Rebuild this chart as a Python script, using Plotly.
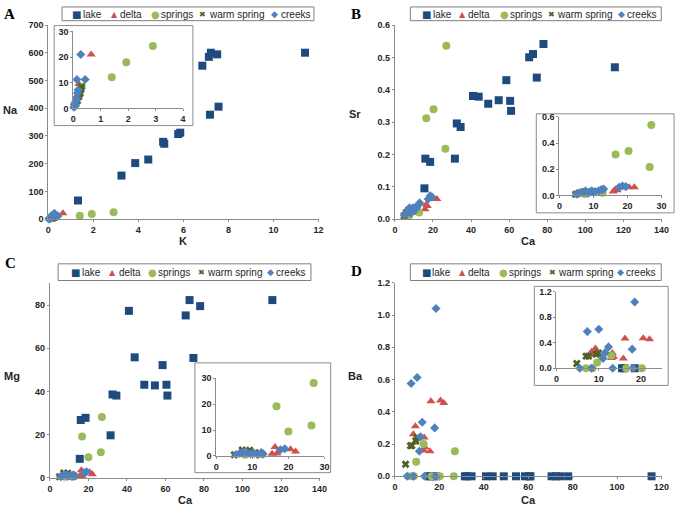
import plotly.graph_objects as go
import numpy as np

W, H = 685, 511

# ---------------- data ----------------
groups = ["lake", "delta", "springs", "warm spring", "creeks"]

# Panel A: K vs Na
lake_k = [1.32, 3.25, 3.86, 4.44, 5.1, 5.15, 5.77, 5.86, 6.84, 7.13, 7.22, 7.5, 7.18, 7.56, 11.4]
lake_na = [67, 157, 202, 215, 279, 272, 307, 312, 554, 586, 601, 595, 377, 406, 601]
delta_k = [0.65, 0.13, 0.2]
delta_na = [21.0, 5.0, 9.5]
springs_k = [0.25, 0.3, 1.4, 1.93, 2.9]
springs_na = [7.0, 8.5, 12.2, 18.0, 24.3]
warm_k = [0.15, 0.2, 0.22, 0.25, 0.28, 0.3]
warm_na = [3.0, 4.5, 5.5, 6.0, 7.5, 8.5]
creeks_k = [0.02, 0.04, 0.06, 0.08, 0.1, 0.12, 0.15, 0.17, 0.13, 0.43, 0.27]
creeks_na = [0.5, 1.5, 2.2, 1.0, 2.8, 4.0, 6.0, 7.2, 11.3, 11.3, 21.0]

# Lake samples (shared Ca for panels B, C, D)
lake_ca = [15.5, 16.0, 18.5, 31.5, 32.5, 34.5, 41.0, 44.0, 49.0, 54.5, 58.5, 60.5, 61.0, 70.5, 72.5, 74.5, 78.0, 115.5]
lake_sr = [0.095, 0.187, 0.177, 0.187, 0.296, 0.285, 0.381, 0.379, 0.357, 0.368, 0.43, 0.366, 0.335, 0.501, 0.511, 0.438, 0.542, 0.47]
lake_mg = [8.8, 26.8, 27.8, 19.7, 38.6, 38.1, 77.3, 55.8, 43.1, 42.8, 52.2, 43.1, 38.1, 75.2, 82.3, 55.5, 79.5, 82.3]
lake_ba = [0.0, 0.0, 0.0, 0.0, 0.0, 0.0, 0.0, 0.0, 0.0, 0.0, 0.0, 0.0, 0.0, 0.0, 0.0, 0.0, 0.0, 0.0]

# Panel B: Ca vs Sr
delta_ca_b = [15.8, 16.4, 17.0, 20.5, 22.0]
delta_sr = [0.03, 0.045, 0.04, 0.063, 0.062]
springs_ca_b = [7.5, 9.5, 12.7, 16.5, 20.3, 26.5, 27.0]
springs_sr = [0.012, 0.025, 0.02, 0.312, 0.34, 0.218, 0.537]
warm_ca_b = [4.8, 6.0, 7.2, 8.3, 9.5]
warm_sr = [0.01, 0.02, 0.028, 0.03, 0.025]
creeks_ca_b = [5.0, 6.0, 7.0, 7.7, 8.5, 9.5, 10.5, 11.5, 12.3, 13.0, 17.5, 18.5, 19.5]
creeks_sr = [0.012, 0.02, 0.025, 0.035, 0.018, 0.035, 0.03, 0.035, 0.045, 0.05, 0.062, 0.072, 0.068]

# Panel C: Ca vs Mg
delta_ca_c = [15.5, 16.3, 16.8, 20.6, 22.0]
delta_mg = [0.9, 3.5, 1.0, 2.6, 1.7]
springs_ca_c = [8.0, 9.5, 12.8, 16.7, 20.0, 26.4, 27.0]
springs_mg = [0.5, 1.0, 0.7, 19.2, 9.5, 11.8, 28.2]
warm_ca_c = [5.0, 7.2, 8.0, 9.3, 10.8]
warm_mg = [0.5, 2.3, 1.5, 2.2, 1.3]
creeks_ca_c = [5.5, 6.5, 7.5, 8.5, 9.5, 10.5, 11.5, 12.5, 13.0, 17.8, 19.0]
creeks_mg = [0.6, 1.0, 1.5, 1.2, 0.8, 1.0, 0.5, 1.3, 0.8, 2.4, 2.8]

# Panel D: Ca vs Ba
delta_ca_d = [16.2, 20.5, 22.0, 9.2, 8.3, 8.9, 13.2, 13.5, 13.0, 15.8]
delta_ba = [0.465, 0.47, 0.455, 0.31, 0.26, 0.21, 0.24, 0.18, 0.16, 0.155]
springs_ca_d = [7.0, 8.5, 9.6, 12.9, 16.5, 20.2, 26.5, 27.0]
springs_ba = [0.0, 0.0, 0.09, 0.2, 0.0, 0.0, 0.0, 0.155]
warm_ca_d = [4.8, 7.0, 7.6, 9.4, 9.9]
warm_ba = [0.075, 0.19, 0.19, 0.22, 0.24]
creeks_ca_d = [18.5, 7.3, 10.0, 12.3, 17.9, 11.5, 11.0, 5.5, 8.3, 13.3, 18.2]
creeks_ba = [1.04, 0.575, 0.613, 0.335, 0.3, 0.245, 0.155, 0.0, 0.0, 0.0, 0.0]

panel_data = {
    "A": [(lake_k, lake_na), (delta_k, delta_na), (springs_k, springs_na), (warm_k, warm_na), (creeks_k, creeks_na)],
    "B": [(lake_ca, lake_sr), (delta_ca_b, delta_sr), (springs_ca_b, springs_sr), (warm_ca_b, warm_sr), (creeks_ca_b, creeks_sr)],
    "C": [(lake_ca, lake_mg), (delta_ca_c, delta_mg), (springs_ca_c, springs_mg), (warm_ca_c, warm_mg), (creeks_ca_c, creeks_mg)],
    "D": [(lake_ca, lake_ba), (delta_ca_d, delta_ba), (springs_ca_d, springs_ba), (warm_ca_d, warm_ba), (creeks_ca_d, creeks_ba)],
}
# groups shown in each inset
inset_groups = {
    "A": ["lake", "delta", "springs", "warm spring", "creeks"],
    "B": ["delta", "springs", "warm spring", "creeks"],
    "C": ["delta", "springs", "warm spring", "creeks"],
    "D": ["lake", "delta", "springs", "warm spring", "creeks"],
}

# ---------------- styles ----------------
C_LAKE, C_DELTA, C_SPR, C_WARM, C_CREEK = "#1F4A7E", "#D0504D", "#9BBB59", "#4F6228", "#4F81BD"
colors = [C_LAKE, C_DELTA, C_SPR, C_WARM, C_CREEK]
symbols = ["square", "triangle-up", "circle", "x", "diamond"]
sizes = [8, 8, 8, 7, 7]
glyphs = ["■", "▲", "●", "✖", "◆"]
glyph_sizes = [10, 8, 10, 8, 9]

AX_COL = "#8C8C8C"
TXT = "#262626"
FONT = "Liberation Sans"


def px_x(p):
    return p / W


def px_y(p):
    return 1 - p / H


# axes geometry (pixels): (x0, x1, ytop, ybottom, xrange, yrange, xticks, yticks, yfmt)
axes_spec = {
    1: (46, 320.7, 20.7, 218.3, [0, 12], [0, 700], dict(dtick=2), dict(dtick=100), ""),
    2: (71.5, 183, 27, 105.5, [0, 4], [0, 30], dict(dtick=1), dict(dtick=10), ""),
    3: (398.3, 669.3, 20.7, 218.3, [0, 140], [0, 0.6], dict(dtick=20), dict(dtick=0.1), ".1f"),
    4: (565.5, 669.3, 114, 194.3, [0, 30], [0, 0.6], dict(dtick=10), dict(dtick=0.2), ".1f"),
    5: (47.7, 321.7, 284, 482.3, [0, 140], [0, 90], dict(dtick=20), dict(tickvals=[0, 20, 40, 60, 80]), ""),
    6: (216.7, 326.7, 380.7, 460, [0, 30], [0, 30], dict(dtick=10), dict(dtick=10), ""),
    7: (398.3, 669.3, 283.3, 480.7, [0, 120], [0, 1.2], dict(dtick=20), dict(dtick=0.2), ".1f"),
    8: (562.5, 670, 292.5, 370.5, [0, 25], [0, 1.2], dict(tickvals=[0, 10, 20]), dict(dtick=0.4), ".1f"),
}

fig = go.Figure()

layout = dict(
    width=W, height=H,
    margin=dict(l=0, r=0, t=0, b=0),
    paper_bgcolor="white",
    plot_bgcolor="rgba(0,0,0,0)",
    showlegend=False,
    font=dict(family=FONT, color=TXT),
)

for i, (x0, x1, yt, yb, xr, yr, xt, yt_, yfmt) in axes_spec.items():
    sfx = "" if i == 1 else str(i)
    common = dict(showline=True, linecolor=AX_COL, linewidth=1, ticks="outside", ticklen=2,
                  tickcolor=AX_COL, showgrid=False, zeroline=False,
                  tickfont=dict(family=FONT, size=9, color=TXT, weight="bold"))
    layout["xaxis" + sfx] = dict(domain=[px_x(x0), px_x(x1)], range=xr, anchor="y" + sfx, **xt, **common)
    layout["yaxis" + sfx] = dict(domain=[px_y(yb), px_y(yt)], range=yr, anchor="x" + sfx,
                                 tickformat=yfmt, **yt_, **common)

panel_axes = {"A": (1, 2), "B": (3, 4), "C": (5, 6), "D": (7, 8)}

for panel, (main_ax, inset_ax) in panel_axes.items():
    for ax in (main_ax, inset_ax):
        sfx = "" if ax == 1 else str(ax)
        xr = axes_spec[ax][4]
        yr = axes_spec[ax][5]
        for gi, (xs, ys) in enumerate(panel_data[panel]):
            if ax == inset_ax and groups[gi] not in inset_groups[panel]:
                continue
            xs = np.array(xs, dtype=float)
            ys = np.array(ys, dtype=float)
            keep = (xs <= xr[1] * 1.01) & (ys <= yr[1] * 1.01)
            fig.add_trace(go.Scatter(
                x=xs[keep], y=ys[keep], mode="markers", name=groups[gi],
                xaxis="x" + sfx, yaxis="y" + sfx, cliponaxis=False,
                marker=dict(symbol=symbols[gi], color=colors[gi], size=sizes[gi], line=dict(width=0)),
                showlegend=False,
            ))

shapes = []
annotations = []

# inset boxes
for (bx0, by0, bx1, by1) in [(52, 21, 193, 123), (542, 111, 682, 212), (195, 365, 333, 477), (540, 287, 676, 388)]:
    shapes.append(dict(type="rect", xref="paper", yref="paper", x0=px_x(bx0), x1=px_x(bx1),
                       y0=px_y(by1), y1=px_y(by0), line=dict(color=AX_COL, width=1),
                       fillcolor="white", layer="below"))

# legend boxes with items
legends = [
    ((60, 2, 316, 16), 9.3, [75, 113, 155, 203, 276]),
    ((414, 2, 669, 16), 9.3, [430.7, 466.7, 509.3, 557.3, 628.3]),
    ((56, 264, 313, 281), 272.8, [74, 111.7, 151.7, 201.7, 271.7]),
    ((414, 264, 669, 281), 272.8, [430, 466.7, 508.3, 558.3, 627.3]),
]
for (bx0, by0, bx1, by1), cy, sxs in legends:
    shapes.append(dict(type="rect", xref="paper", yref="paper", x0=px_x(bx0), x1=px_x(bx1),
                       y0=px_y(by1), y1=px_y(by0), line=dict(color="#7F7F7F", width=1),
                       fillcolor="white", layer="below"))
    for gi, sx in enumerate(sxs):
        annotations.append(dict(xref="paper", yref="paper", x=px_x(sx), y=px_y(cy), text=glyphs[gi],
                                showarrow=False, xanchor="center", yanchor="middle",
                                font=dict(family="DejaVu Sans", size=glyph_sizes[gi], color=colors[gi])))
        annotations.append(dict(xref="paper", yref="paper", x=px_x(sx + 4), y=px_y(cy), text=groups[gi],
                                showarrow=False, xanchor="left", yanchor="middle",
                                font=dict(family=FONT, size=10, color=TXT)))

# axis titles
for txt, x, y in [("Na", 8, 107), ("K", 183, 241), ("Sr", 358, 111), ("Ca", 534, 241),
                  ("Mg", 9, 378), ("Ca", 185, 505), ("Ba", 358, 378), ("Ca", 534, 505)]:
    annotations.append(dict(xref="paper", yref="paper", x=px_x(x), y=px_y(y), text=txt, showarrow=False,
                            xanchor="center", yanchor="middle", borderpad=0,
                            font=dict(family=FONT, size=11, color=TXT, weight="bold")))

# panel letters
for txt, x, y in [("A", 7, 9), ("B", 359, 9), ("C", 8, 263), ("D", 359, 271)]:
    annotations.append(dict(xref="paper", yref="paper", x=px_x(x), y=px_y(y), text=txt, showarrow=False,
                            xanchor="center", yanchor="middle",
                            font=dict(family="Liberation Serif", size=15, color="black", weight="bold")))

layout["shapes"] = shapes
layout["annotations"] = annotations
fig.update_layout(**layout)

fig.write_html("out.html",
               config={"displayModeBar": False},
               post_script="document.body.style.margin='0';document.body.style.padding='0';"
                           "document.documentElement.style.overflow='hidden';")
